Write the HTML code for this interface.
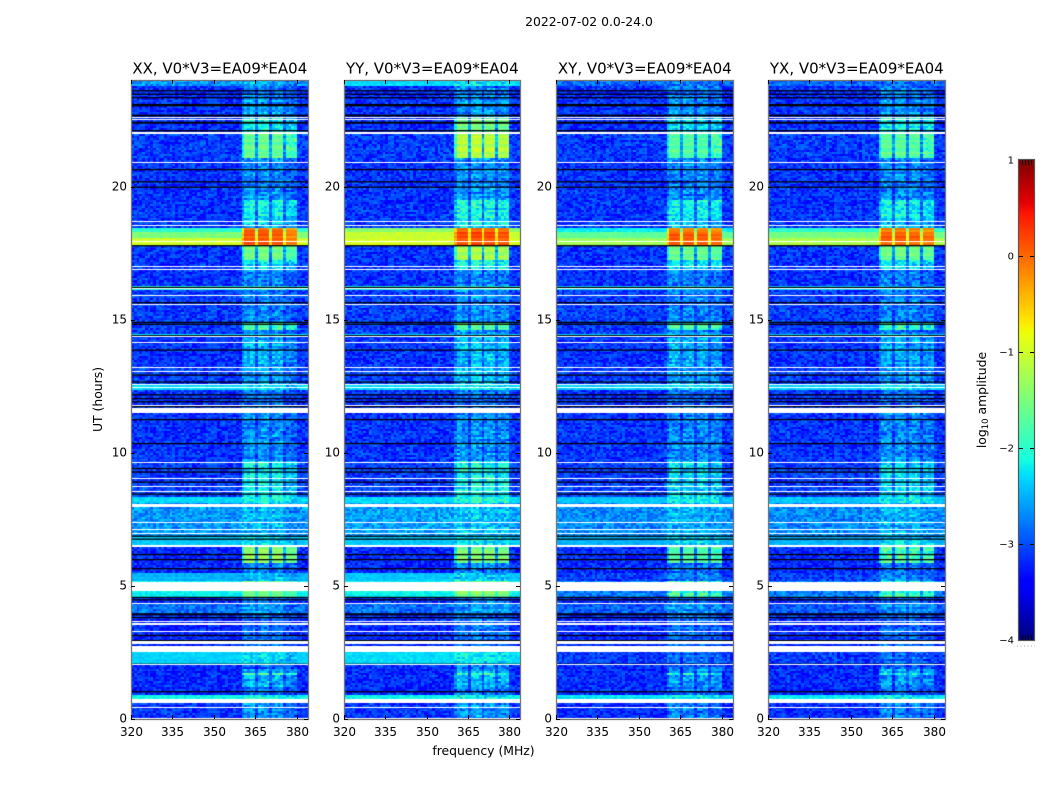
<!DOCTYPE html>
<html lang="en">
<head>
<meta charset="utf-8">
<title>2022-07-02 dynamic spectra</title>
<style>
html,body{margin:0;padding:0;background:#fff;}
#chart{position:relative;width:1050px;height:800px;overflow:hidden;background:#fff;font-family:"DejaVu Sans","Liberation Sans",sans-serif;}
canvas{position:absolute;display:block;}
svg{position:absolute;left:0;top:0;}
text{font-family:"DejaVu Sans","Liberation Sans",sans-serif;fill:#000;}
</style>
</head>
<body>
<div id="chart">
<canvas id="heat-xx"></canvas>
<canvas id="heat-yy"></canvas>
<canvas id="heat-xy"></canvas>
<canvas id="heat-yx"></canvas>
<canvas id="colorbar"></canvas>
<svg id="overlay" width="1050" height="800" xmlns="http://www.w3.org/2000/svg">
<text x="589" y="26" font-size="12.4" text-anchor="middle">2022-07-02 0.0-24.0</text>
<text x="483.5" y="755" font-size="12.4" text-anchor="middle">frequency (MHz)</text>
<text transform="translate(102,399.5) rotate(-90)" font-size="12.4" text-anchor="middle">UT (hours)</text>
<text transform="translate(986,400) rotate(-90)" font-size="12.4" text-anchor="middle">log<tspan font-size="8.5" dy="2">10</tspan><tspan dy="-2"> amplitude</tspan></text>
</svg>
</div>
<script>
// Categories and axes
const panelNames = ["XX", "YY", "XY", "YX"];
const panelSuffix = "V0*V3=EA09*EA04";
const freqTicks = [320, 335, 350, 365, 380];
const utTicks = [0, 5, 10, 15, 20];
const colorTicks = [1, 0, -1, -2, -3, -4];
const colorTickLabels = ["1", "0", "\u22121", "\u22122", "\u22123", "\u22124"];

// Time segments (UT hours where each segment starts)
const segmentStarts = [0,0.6,0.9,1.2,1.65,1.75,1.85,2.05,2.52,3.3,4,4.36,4.54,5.15,5.5,5.85,6.46,6.8,8.07,8.35,9.66,11.68,12.4,12.62,13.2,14.4,14.5,14.6,14.9,16.1,16.3,16.85,17.25,17.8,18.1,18.3,18.45,18.85,19.5,21.1,22.06,22.6,23.25,23.76];

// Off-band log10 amplitude per segment
const backgroundXX = [-3.15,-2.15,-3.2,-3.2,-3.2,-3.2,-3.2,-2.35,-3.2,-3.2,-2.85,-3.15,-2.2,-2.5,-3.2,-3.2,-2.4,-2.65,-2.3,-3.1,-3.15,-3.15,-2.3,-3.1,-3.15,-2.35,-3.1,-3.1,-3.1,-2.1,-3.15,-3.15,-3.15,-1,-1.5,-2,-3.15,-3.15,-3.15,-3.1,-3.2,-3.15,-3.2,-2.65];
const backgroundYY = [-3.15,-2.15,-3.2,-3.2,-3.2,-3.2,-3.2,-2.3,-3.2,-3.2,-2.85,-3.15,-2.2,-2.4,-3.2,-3.2,-2.4,-2.6,-2.3,-3.1,-3.15,-3.15,-2.3,-3.1,-3.15,-2.35,-3.1,-3.1,-3.1,-2.1,-3.15,-3.15,-3.15,-0.95,-1.05,-1.4,-3.15,-3.15,-3.15,-3.1,-3.2,-3.15,-3.2,-2.3];
const backgroundXY = [-3.2,-2.25,-3.2,-3.2,-3.2,-3.2,-3.2,-3.1,-3.2,-3.2,-2.95,-3.15,-2.8,-3.1,-3.2,-3.2,-2.5,-2.7,-2.4,-3.1,-3.15,-3.15,-2.35,-3.1,-3.15,-2.4,-3.1,-3.1,-3.1,-2.3,-3.15,-3.15,-3.15,-1.3,-1.7,-2.2,-3.15,-3.15,-3.15,-3.1,-3.2,-3.15,-3.2,-2.85];
const backgroundYX = [-3.2,-2.25,-3.2,-3.2,-3.2,-3.2,-3.2,-3.1,-3.2,-3.2,-2.95,-3.15,-2.8,-3.1,-3.2,-3.2,-2.5,-2.7,-2.4,-3.1,-3.15,-3.15,-2.35,-3.1,-3.15,-2.4,-3.1,-3.1,-3.1,-2.3,-3.15,-3.15,-3.15,-1.2,-1.55,-2,-3.15,-3.15,-3.15,-3.1,-3.2,-3.15,-3.2,-2.85];

// In-band (361-380 MHz) log10 amplitude per segment
const bandXX = [-2.7,-2.1,-2.85,-2.55,-1.8,-2.5,-2.85,-2.3,-2.85,-2.85,-2.65,-2.85,-1.55,-2.45,-2.8,-1.4,-2.35,-2.5,-2.05,-2.2,-2.7,-2.85,-2.3,-2.6,-2.55,-2.3,-2.7,-1.8,-2.75,-2.1,-2.75,-2.25,-1.55,0.05,0.05,-0.05,-2.4,-2.15,-2.7,-1.65,-2.15,-2.65,-2.75,-2.6];
const bandYY = [-2.7,-2.1,-2.85,-2.55,-1.9,-2.5,-2.85,-2.25,-2.85,-2.85,-2.65,-2.85,-1.5,-2.4,-2.8,-1.5,-2.3,-2.45,-2.05,-2.15,-2.7,-2.85,-2.3,-2.45,-2.5,-2.3,-2.7,-1.7,-2.75,-2.1,-2.75,-2.15,-1.25,0.1,0.1,0,-2.3,-2.1,-2.7,-1.15,-1.6,-2.65,-2.75,-2.3];
const bandXY = [-2.75,-2.2,-2.85,-2.65,-2,-2.6,-2.85,-2.85,-2.85,-2.85,-2.65,-2.85,-1.9,-2.7,-2.8,-1.75,-2.3,-2.5,-2.15,-2.3,-2.7,-2.85,-2.3,-2.6,-2.55,-2.3,-2.7,-1.75,-2.75,-2.3,-2.75,-2.25,-1.6,0.05,0.05,-0.1,-2.4,-2.15,-2.7,-1.75,-2.25,-2.65,-2.75,-2.75];
const bandYX = [-2.75,-2.2,-2.85,-2.65,-2,-2.6,-2.85,-2.85,-2.85,-2.85,-2.65,-2.85,-1.9,-2.7,-2.8,-1.8,-2.3,-2.5,-2.15,-2.3,-2.7,-2.85,-2.3,-2.6,-2.55,-2.3,-2.7,-1.9,-2.75,-2.3,-2.75,-2.25,-1.55,0.05,0.05,-0.1,-2.4,-2.15,-2.7,-1.7,-2.15,-2.65,-2.75,-2.75];

// Flagged rows: white = no data, black = dropout (UT hours)
const whiteGapStarts = [0,0.41,0.6,2.01,2.52,2.82,3.27,3.53,3.64,4.32,4.81,6.46,6.93,7.08,7.36,7.96,8.51,8.71,9.01,9.62,11.49,11.74,12.43,12.55,13.03,13.18,14.12,14.35,15.55,15.92,16.15,16.86,16.97,17.92,18.53,18.67,20.88,21.98,22.5,22.57];
const whiteGapEnds = [0.04,0.45,0.75,2.05,2.74,2.93,3.3,3.59,3.68,4.36,5.15,6.53,6.97,7.12,7.4,8.07,8.55,8.75,9.05,9.66,11.68,11.78,12.47,12.58,13.07,13.22,14.16,14.39,15.59,15.92,16.19,16.9,17.01,17.96,18.57,18.71,20.92,22.04,22.54,22.6];
const blackLines = [1.05,2.08,2.97,3.16,3.83,3.94,3.97,4.5,4.59,5.67,6.01,6.2,6.78,6.89,8.47,8.92,9.3,9.43,10.37,11.27,11.76,11.94,12.06,12.2,12.68,12.94,13.88,14.42,14.85,14.92,15.66,16.23,17.8,20,20.2,20.66,22.12,22.41,22.43,22.68,22.7,23.06,23.1,23.36,23.49,23.62];

// Typed amplitude texture (measured look of the channel noise)
const cellGrain = [0.12,-0.22,0.31,-0.05,0.18,-0.31,0.02,0.26,-0.14,0.37,-0.27,0.08,-0.1,0.22,-0.35,0.15,0.04,-0.19,0.29,-0.08,-0.28,0.11,0.33,-0.16,0.06,-0.24,0.2,-0.02,0.39,-0.33,0.09,-0.12,0.25,-0.29,0.14,-0.06,0.3,-0.21,0.01,0.17,-0.37,0.23,-0.11,0.07,0.28,-0.25,0.13,-0.04,0.35,-0.18,-0.3,0.19,0.05,-0.15,0.27,-0.09,0.1,-0.26,0.21,-0.01,0.16];
const rowGrain = [0.04,-0.07,0.11,-0.02,0.08,-0.12,0.03,0.14,-0.09,0.01,0.07,-0.05,-0.13,0.1,0.02,-0.08,0.12,-0.03,0.06,-0.11,0.09,-0.01,0.13,-0.06,0,-0.1,0.05,0.15,-0.04,-0.14,0.08,0.03,-0.07,0.11,-0.12,0.06,-0.02];

// Strength of the in-band signal per 1 MHz channel, 320-383
const channelGain = [0,0,0,0,0,0,0,0,0,0,0,0,0,0,0,0,0,0,0,0,0,0,0,0,0,0,0,0,0,0,0,0,0,0,0,0,0,0,0,0,0.6,1,1,1,1,0.3,1,1,1,1,0.3,1,1,1,1,0.3,1,1,1,1,0.05,0,0,0];
// Offset for each of the 4 sub-bands, per panel
const subbandXX = [0.03, 0.03, 0, -0.22];
const subbandYY = [0.03, 0.05, 0.03, -0.03];
const subbandXY = [0, 0, -0.02, -0.1];
const subbandYX = [0, 0, -0.04, -0.12];

const panelLefts = [131, 344, 556, 768];
const panelWidths = [177, 176, 177, 177];
const PLOT_TOP = 80, PLOT_BOTTOM = 719;
const FREQ_MIN = 320, FREQ_MAX = 384, UT_MAX = 24, ROWS = 320, ROW_H = 0.075;
const CB_X = 1019, CB_W = 15, CB_TOP = 160, CB_BOTTOM = 640;

const xScale = (f, w) => (f - FREQ_MIN) / (FREQ_MAX - FREQ_MIN) * w;
const yScale = u => (UT_MAX - u) / UT_MAX * (PLOT_BOTTOM - PLOT_TOP);
const colorY = v => CB_TOP + (1 - v) / 5 * (CB_BOTTOM - CB_TOP);

function clamp(v) { return Math.max(0, Math.min(1, v)); }
function piece(t, pts) {
  for (let i = 1; i < pts.length; i++) {
    if (t <= pts[i][0]) {
      const a = pts[i - 1], b = pts[i];
      return a[1] + (b[1] - a[1]) * (t - a[0]) / (b[0] - a[0]);
    }
  }
  return pts[pts.length - 1][1];
}
function jet(v) {
  const t = clamp((v + 4) / 5);
  const r = piece(t, [[0,0],[0.35,0],[0.66,1],[0.89,1],[1,0.5]]);
  const g = piece(t, [[0,0],[0.125,0],[0.375,1],[0.64,1],[0.91,0],[1,0]]);
  const b = piece(t, [[0,0.5],[0.11,1],[0.34,1],[0.65,0],[1,0]]);
  return "rgb(" + Math.round(r * 255) + "," + Math.round(g * 255) + "," + Math.round(b * 255) + ")";
}
function segmentAt(u) {
  let s = 0;
  for (let i = 0; i < segmentStarts.length; i++) if (u >= segmentStarts[i]) s = i;
  return s;
}

const panelBackgrounds = [backgroundXX, backgroundYY, backgroundXY, backgroundYX];
const panelBands = [bandXX, bandYY, bandXY, bandYX];
const panelSubbands = [subbandXX, subbandYY, subbandXY, subbandYX];
const canvasIds = ["heat-xx", "heat-yy", "heat-xy", "heat-yx"];

function drawPanel(p) {
  const w = panelWidths[p];
  const cv = document.getElementById(canvasIds[p]);
  cv.width = w;
  cv.height = PLOT_BOTTOM - PLOT_TOP;
  cv.style.left = panelLefts[p] + "px";
  cv.style.top = PLOT_TOP + "px";
  const ctx = cv.getContext("2d");
  const bgs = panelBackgrounds[p], bands = panelBands[p], subs = panelSubbands[p];
  for (let r = 0; r < ROWS; r++) {
    const u0 = r * ROW_H, u1 = (r + 1) * ROW_H;
    const seg = segmentAt(u0 + ROW_H / 2);
    const yTop = Math.round(yScale(u1)), yBot = Math.round(yScale(u0));
    for (let c = 0; c < channelGain.length; c++) {
      const x0 = Math.round(xScale(FREQ_MIN + c, w)), x1 = Math.round(xScale(FREQ_MIN + c + 1, w));
      const sb = Math.max(0, Math.min(3, Math.floor((c - 41) / 5)));
      const gain = channelGain[c];
      const bandLevel = bands[seg] + subs[sb];
      const flat = bgs[seg] > -2.6 ? 0.3 : 0.85;
      const idx = (c * c * 11 + r * r * 3 + c * r * 7 + r * 17 + c * 5 + p * 13) % cellGrain.length;
      const bright = gain > 0.5 && bandLevel > -1.8;
      const level = bgs[seg] + (bandLevel - bgs[seg]) * gain;
      const cellPart = cellGrain[idx] * (gain > 0.5 && !bright ? 0.95 : flat) * (bright ? 0.35 : 1);
      const rowPart = rowGrain[(r + p) % rowGrain.length] * (gain > 0.5 ? 1 : 0.2);
      ctx.fillStyle = jet(level + cellPart + rowPart);
      ctx.fillRect(x0, yTop, x1 - x0, yBot - yTop);
    }
  }
  ctx.fillStyle = "#000";
  for (let i = 0; i < blackLines.length; i++) {
    ctx.fillRect(0, yScale(blackLines[i]), w, 1.3);
  }
  ctx.fillStyle = "#fff";
  for (let i = 0; i < whiteGapStarts.length; i++) {
    const y0 = Math.round(yScale(whiteGapEnds[i])), y1 = Math.round(yScale(whiteGapStarts[i]));
    ctx.fillRect(0, y0, w, Math.max(1, y1 - y0));
  }
}

function drawColorbar() {
  const cv = document.getElementById("colorbar");
  cv.width = CB_W;
  cv.height = CB_BOTTOM - CB_TOP;
  cv.style.left = CB_X + "px";
  cv.style.top = CB_TOP + "px";
  const ctx = cv.getContext("2d");
  for (let y = 0; y < cv.height; y++) {
    ctx.fillStyle = jet(1 - (y + 0.5) / cv.height * 5);
    ctx.fillRect(0, y, CB_W, 1);
  }
}

const SVGNS = "http://www.w3.org/2000/svg";
const overlay = document.getElementById("overlay");
function tickLine(x1, y1, x2, y2, color) {
  const el = document.createElementNS(SVGNS, "line");
  el.setAttribute("x1", x1);
  el.setAttribute("y1", y1);
  el.setAttribute("x2", x2);
  el.setAttribute("y2", y2);
  el.setAttribute("stroke", color || "#000");
  el.setAttribute("stroke-width", "1");
  
  
  overlay.appendChild(el);
}
function label(x, y, str, size, anchor) {
  const el = document.createElementNS(SVGNS, "text");
  el.setAttribute("x", x);
  el.setAttribute("y", y);
  el.setAttribute("font-size", size);
  el.setAttribute("text-anchor", anchor);
  el.textContent = str;
  
  
  overlay.appendChild(el);
}

function drawAxes(p) {
  const w = panelWidths[p];
  const left = panelLefts[p], right = left + w;
  const frame = document.createElementNS(SVGNS, "rect");
  frame.setAttribute("x", left + 0.5);
  frame.setAttribute("y", PLOT_TOP + 0.5);
  frame.setAttribute("width", w);
  frame.setAttribute("height", PLOT_BOTTOM - PLOT_TOP);
  frame.setAttribute("fill", "none");
  frame.setAttribute("stroke", "#777");
  frame.setAttribute("stroke-width", "1.3");
  
  
  overlay.appendChild(frame);

  freqTicks.forEach(f => {
    const x = Math.round(left + xScale(f, w)) + 0.5;
    tickLine(x, PLOT_BOTTOM, x, PLOT_BOTTOM - 4);
    tickLine(x, PLOT_TOP, x, PLOT_TOP + 4);
    label(x, PLOT_BOTTOM + 17, String(f), 12, "middle");
  });
  utTicks.forEach(u => {
    const y = Math.round(PLOT_TOP + yScale(u)) + 0.5;
    tickLine(left, y, left + 4, y);
    tickLine(right, y, right - 4, y);
    label(left - 4, y + 3, String(u), 12, "end");
  });
  const title = document.createElementNS(SVGNS, "text");
  title.setAttribute("x", left + w / 2 + 0.3);
  title.setAttribute("y", 73.5);
  title.setAttribute("font-size", "15");
  title.setAttribute("text-anchor", "middle");
  title.textContent = panelNames[p] + ", " + panelSuffix;
  
  
  overlay.appendChild(title);
}

function drawColorbarAxis() {
  const frame = document.createElementNS(SVGNS, "rect");
  frame.setAttribute("x", CB_X - 0.5);
  frame.setAttribute("y", CB_TOP - 0.5);
  frame.setAttribute("width", CB_W + 1);
  frame.setAttribute("height", CB_BOTTOM - CB_TOP + 1);
  frame.setAttribute("fill", "none");
  frame.setAttribute("stroke", "#555");
  frame.setAttribute("stroke-width", "1.2");
  
  
  overlay.appendChild(frame);
  colorTicks.forEach((v, i) => {
    const y = Math.round(colorY(v));
    if (v !== 1 && v !== -4) {
      tickLine(CB_X, y + 0.5, CB_X + 4, y + 0.5);
      tickLine(CB_X + CB_W, y + 0.5, CB_X + CB_W - 4, y + 0.5);
    }
    label(CB_X - 5, y + 3.5, colorTickLabels[i], 10, "end");
  });
  const minorColorOffsets = [3.5, 6.5, 9.5, 12.5];
  minorColorOffsets.forEach(dx => {
    tickLine(CB_X + dx, CB_TOP, CB_X + dx, CB_TOP + 5);
    tickLine(CB_X + dx, CB_BOTTOM, CB_X + dx, CB_BOTTOM - 5);
  });
  const dots = document.createElementNS(SVGNS, "line");
  dots.setAttribute("x1", CB_X - 2);
  dots.setAttribute("y1", 646);
  dots.setAttribute("x2", CB_X + CB_W + 1);
  dots.setAttribute("y2", 646);
  dots.setAttribute("stroke", "#aaa");
  dots.setAttribute("stroke-dasharray", "1 2.5");
  
  
  overlay.appendChild(dots);
}

for (let p = 0; p < panelNames.length; p++) {
  drawPanel(p);
  drawAxes(p);
}
drawColorbar();
drawColorbarAxis();
</script>
</body>
</html>
